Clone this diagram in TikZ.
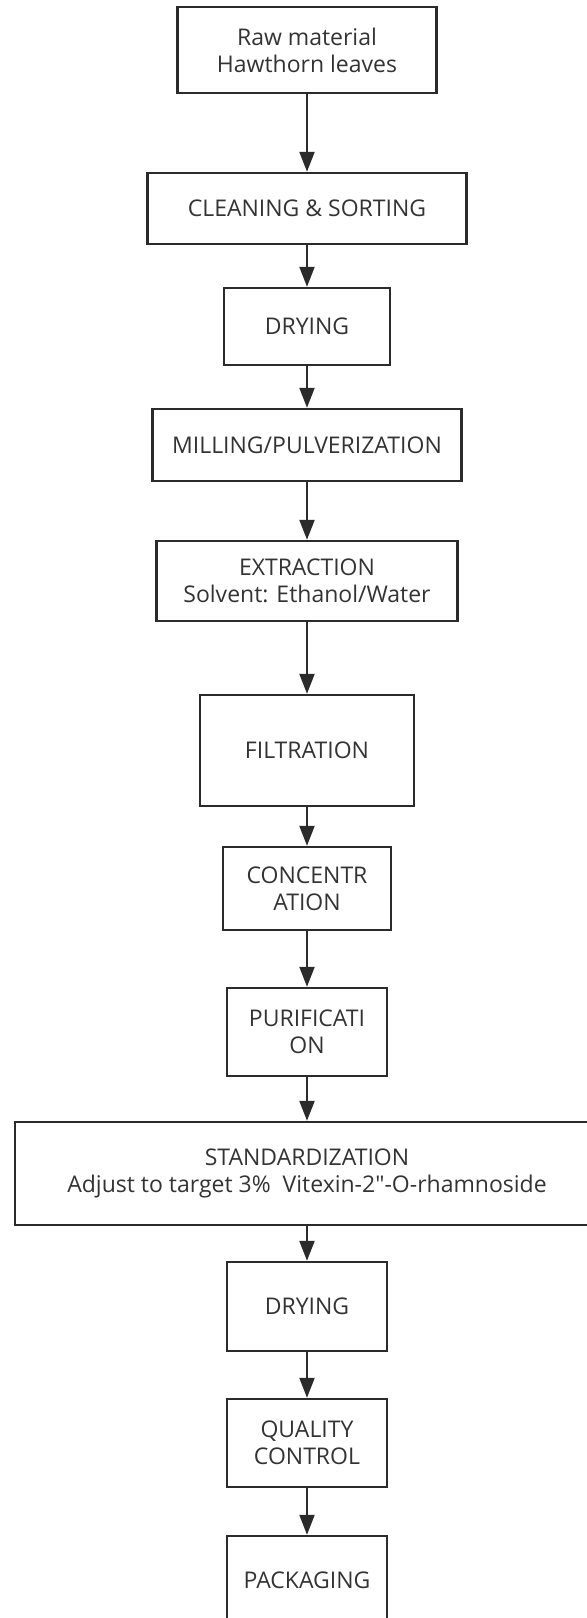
\documentclass[tikz,border=0pt]{standalone}
\usepackage{fontspec}
\setmainfont{Open Sans}[Ligatures=TeXOff]
\usetikzlibrary{arrows.meta,positioning}
\definecolor{linecol}{HTML}{2B2B2B}
\definecolor{textcol}{HTML}{333333}
\tikzset{
  stepbox/.style={draw=linecol, line width=2.4bp, rectangle, align=center,
    text=textcol, inner sep=0pt, font=\fontsize{23bp}{27bp}\selectfont},
}
\begin{document}
\begin{tikzpicture}[>={Triangle[length=20bp,width=15bp]},line join=miter,]
%%
  \useasboundingbox (0bp,0bp) rectangle (587bp,1618bp);
  \clip (0bp,0bp) rectangle (587bp,1618bp);
  \node (raw) at (307bp,1568bp) [stepbox, minimum width=259bp, minimum height=86bp] {Raw material\\Hawthorn leaves};
  \node (clean) at (307bp,1409.5bp) [stepbox, minimum width=319bp, minimum height=71bp] {CLEANING \& SORTING};
  \node (dryA) at (307bp,1291.5bp) [stepbox, minimum width=166bp, minimum height=77bp] {DRYING};
  \node (mill) at (307bp,1173bp) [stepbox, minimum width=309bp, minimum height=72bp] {MILLING/PULVERIZATION};
  \node (extract) at (307bp,1037bp) [stepbox, minimum width=301bp, minimum height=80bp] {EXTRACTION\\Solvent: Ethanol/Water};
  \node (filter) at (307bp,867.5bp) [stepbox, minimum width=214bp, minimum height=111bp] {FILTRATION};
  \node (conc) at (307bp,729.5bp) [stepbox, minimum width=168bp, minimum height=83bp] {CONCENTR\\ATION};
  \node (purif) at (307bp,586bp) [stepbox, minimum width=160bp, minimum height=88bp] {PURIFICATI\\ON};
  \node (stand) at (307bp,444.5bp) [stepbox, minimum width=584bp, minimum height=103bp] {STANDARDIZATION\\Adjust to target 3\%\ \ Vitexin-2"-O-rhamnoside};
  \node (dryB) at (307bp,311.5bp) [stepbox, minimum width=160bp, minimum height=89bp] {DRYING};
  \node (qc) at (307bp,175bp) [stepbox, minimum width=160bp, minimum height=88bp] {QUALITY\\CONTROL};
  \node (pack) at (307bp,38bp) [stepbox, minimum width=160bp, minimum height=88bp] {PACKAGING};
%
  \draw [->, draw=linecol, fill=linecol, line width=2.2bp] (raw) -- (clean);
  \draw [->, draw=linecol, fill=linecol, line width=2.2bp] (clean) -- (dryA);
  \draw [->, draw=linecol, fill=linecol, line width=2.2bp] (dryA) -- (mill);
  \draw [->, draw=linecol, fill=linecol, line width=2.2bp] (mill) -- (extract);
  \draw [->, draw=linecol, fill=linecol, line width=2.2bp] (extract) -- (filter);
  \draw [->, draw=linecol, fill=linecol, line width=2.2bp] (filter) -- (conc);
  \draw [->, draw=linecol, fill=linecol, line width=2.2bp] (conc) -- (purif);
  \draw [->, draw=linecol, fill=linecol, line width=2.2bp] (purif) -- (stand);
  \draw [->, draw=linecol, fill=linecol, line width=2.2bp] (stand) -- (dryB);
  \draw [->, draw=linecol, fill=linecol, line width=2.2bp] (dryB) -- (qc);
  \draw [->, draw=linecol, fill=linecol, line width=2.2bp] (qc) -- (pack);
%
\end{tikzpicture}
\end{document}
